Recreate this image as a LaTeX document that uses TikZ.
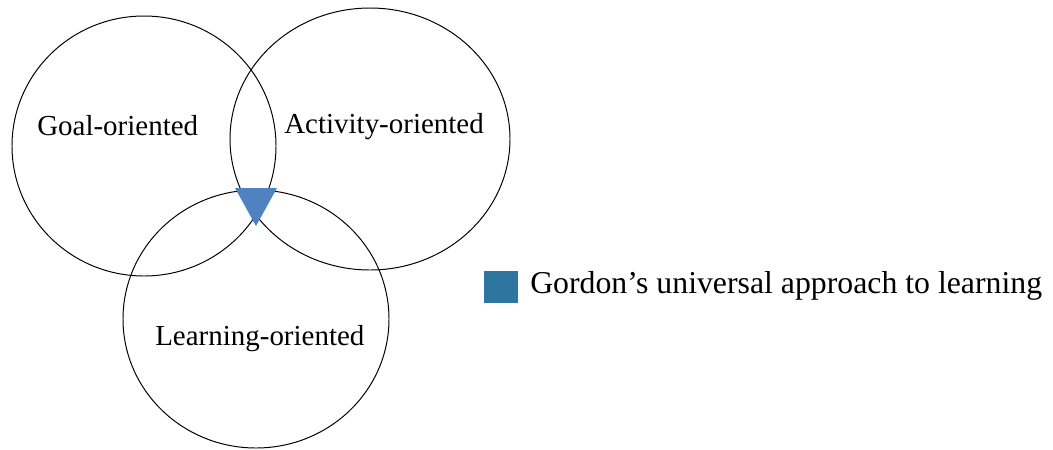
\documentclass[tikz,border=0pt]{standalone}
\usepackage{fontspec}
\setmainfont{Liberation Serif}
\definecolor{triblue}{HTML}{5081C0}
\definecolor{keyblue}{HTML}{2E76A0}
\tikzset{
  ring/.style={line width=0.7pt},
  label/.style={anchor=base west,inner sep=0pt,font=\fontsize{20.6}{24}\selectfont},
}
\begin{document}
\begin{tikzpicture}[x=0.025cm,y=-0.025cm]
      \useasboundingbox (0,0) rectangle (1053,449);
      \coordinate (goal) at (144,146);
      \coordinate (act) at (370,139);
      \coordinate (learn) at (256,319);
      
      \draw[ring] (goal) ellipse [x radius=132, y radius=130];
      \draw[ring] (act) ellipse [x radius=140, y radius=131];
      \draw[ring] (learn) ellipse [x radius=133, y radius=129];
      \fill[triblue] (235,188) -- (277,188) -- (256,226) -- cycle;
      
      \node[label] (goaltext) at (37,135) {Goal-oriented};
      \node[label] (acttext) at (284,133) {Activity-oriented};
      \node[label] (learntext) at (155,345) {Learning-oriented};
      
      \fill[keyblue] (484,271) rectangle (518,303);
      \node[label,font=\fontsize{22.6}{26}\selectfont] (keytext) at (530,293) {Gordon’s universal approach to learning};
    \end{tikzpicture}
\end{document}
